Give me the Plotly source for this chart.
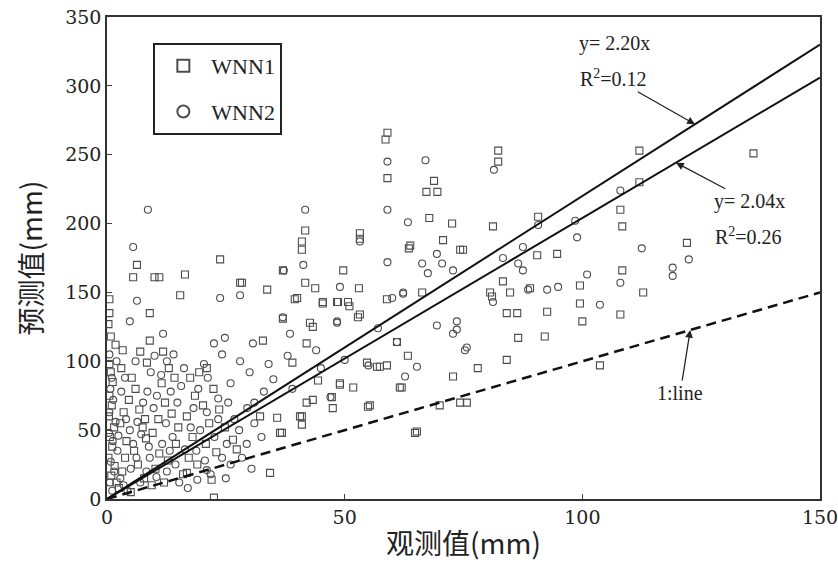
import plotly.graph_objects as go

# ---------------- data ----------------
wnn1_x = [5.5, 6.3, 10, 11, 16.4, 23.8, 28.4, 41.7, 41, 41, 37, 49.7, 41.7, 43.8, 40, 45.4, 48.6, 50.7, 53, 53.2,
          53.2, 58.9, 59, 58.6, 59, 63.8, 66.3, 67.2, 68.8, 69.5, 67.8, 72.6, 70.7, 74.3, 63.5, 82.3, 82.3, 81.2, 90.7, 74.9,
          90.5, 94.7, 99.5, 89, 83.3, 80.6, 84.8, 108, 108.4, 108.4, 112, 112, 112.8, 99.5, 136, 122, 108, 100, 92.6, 92.1,
          86.5, 84.1, 78, 72.8, 103.7, 84.1, 86.3, 81, 70, 75.7, 65.2, 61.6, 63.3, 57.4, 58.9, 51.8, 54.9, 47.5, 47.3, 41,
          41, 43.3, 44.4, 49, 36.8, 74.3, 45.4, 42, 43.3, 37, 39, 53.2, 22.5, 34.3, 0.5, 0.5, 0.3, 0.8, 9, 15.4,
          28, 33.7, 39.5, 21, 7, 9, 11.8, 8.4, 32.8, 42.7, 48.4, 51, 52.8, 54.7, 56.8, 62, 55.3, 64.8, 36.4, 32.2,
          35.8, 27.3, 26.5, 23, 40.6, 42, 49, 16.8, 61,
          0.5, 0.8, 1.2, 0.5, 1, 0.4, 1.5, 0.6, 1.1, 0.3, 1.6, 0.9, 2, 2.5, 3.2, 3.8, 4.1, 2.8, 3.5, 4.6,
          5.2, 3, 6, 6.8, 7.5, 8.2, 5.7, 6.5, 7.8, 9.4, 10.2, 11, 9.6, 10.8, 12.2, 11.5, 13, 14.2, 13.6, 15,
          14.5, 12.8, 16, 17.2, 18, 16.8, 18.5, 17.5, 19.4, 20.2, 21.5, 20.8, 19, 22.4, 23.6, 24.8, 22, 12, 5, 8,
          3.3, 1.8]
wnn1_y = [161, 170, 161, 161, 163, 174, 157, 195, 187, 181, 166, 166, 157, 153, 146, 143, 143, 143, 153, 193,
          189, 145, 266, 261, 233, 184, 150, 223, 231, 223, 204, 200, 188, 181, 182, 253, 245, 198, 205, 181,
          177, 178, 155, 153, 158, 150, 150, 210, 198, 166, 253, 230, 150, 142, 251, 186, 134, 129, 136, 118,
          117, 101, 95, 89, 97, 135, 135, 147, 68, 70, 49, 81, 104, 96, 97, 81, 67, 66, 74, 60,
          54, 72, 86, 84, 48, 70, 142, 113, 125, 131, 99, 134, 1, 19, 135, 145, 127, 118, 135, 148,
          157, 152, 145, 95, 107, 115, 107, 99, 115, 128, 143, 140, 132, 99, 96, 81, 68, 48, 48, 60,
          59, 36, 43, 34, 60, 70, 83, 19, 114,
          98, 92, 85, 75, 68, 60, 52, 45, 38, 30, 24, 17, 12, 8, 20, 30, 42, 55, 63, 72,
          88, 95, 80, 65, 52, 44, 35, 25, 15, 10, 22, 33, 48, 58, 70, 84, 95, 88, 62, 52,
          40, 28, 18, 30, 45, 60, 75, 88, 92, 68, 55, 40, 25, 80, 65, 52, 14, 12, 5, 58,
          108, 112]

wnn2_x = [8.6, 5.5, 37.2, 41.7, 41.3, 53.2, 59, 59, 59, 63.3, 67, 66.3, 69.4, 70.5, 67.5, 72.8, 49, 62.3, 81.4, 90.7,
          83.3, 87.5, 86.5, 87.5, 98.5, 98.9, 101, 94.9, 92.6, 81.2, 108, 108, 112.5, 122.4, 119, 119, 103.7, 75.7, 73.6, 88.6,
          62.7, 65.2, 61, 55, 72.8, 75.3, 69.4, 73.6, 48.4, 38.5, 6.3, 4.8, 11.8, 23.8, 28, 22.5, 24.8, 24.2, 30.7, 37,
          48.4, 60, 62.3, 29.5, 21, 23.4, 47, 21, 19, 57, 35, 33, 30, 28, 26, 31, 34, 38, 45, 50,
          44, 39,
          0.5, 1, 0.7, 1.3, 0.5, 1.8, 0.4, 1.2, 2.2, 0.8, 1.5, 2.8, 3.5, 4.3, 2.4, 3, 4, 4.8, 5.5, 6.2,
          5, 7, 8.3, 9, 8.8, 7.2, 6.4, 7.6, 8.5, 9.8, 10.5, 11.4, 9.2, 12.6, 10, 13.4, 14.8, 15.6, 16.2, 12.4,
          13.8, 11.6, 10.4, 12.6, 13.2, 14.4, 15.2, 16.4, 17.6, 18.2, 19.2, 20.4, 21.2, 18.8, 19.6, 20.6, 21.8, 22.6, 23.4, 24.2,
          25.2, 26, 27.8, 28.4, 29.4, 30.4, 14, 6, 3.8, 2, 0.6, 1.1, 17, 25.5, 26.8, 31, 32.5, 25]
wnn2_y = [210, 183, 166, 210, 170, 187, 245, 210, 172, 201, 246, 171, 178, 171, 164, 166, 154, 150, 239, 199,
          175, 183, 171, 166, 202, 190, 163, 154, 152, 143, 224, 157, 182, 174, 168, 162, 141, 110, 123, 152,
          89, 96, 114, 97, 120, 108, 126, 129, 129, 120, 144, 129, 120, 146, 148, 113, 117, 105, 113, 132,
          128, 146, 149, 66, 63, 73, 74, 21, 14, 124, 87, 78, 92, 100, 84, 70, 98, 104, 95, 101,
          108, 80,
          105, 88, 80, 72, 63, 56, 48, 42, 35, 27, 20, 15, 10, 6, 46, 78, 58, 50, 40, 30,
          22, 12, 20, 30, 38, 47, 56, 70, 78, 66, 75, 90, 92, 100, 104, 78, 70, 82, 95, 55,
          45, 40, 16, 20, 35, 25, 12, 36, 52, 66, 80, 98, 88, 35, 50, 28, 18, 45, 58, 30,
          40, 25, 50, 30, 40, 22, 105, 100, 88, 100, 12, 6, 8, 70, 58, 55, 45, 15]

series_names = ["WNN1", "WNN2"]
fit_slopes = [2.20, 2.04]
fit_r2 = [0.12, 0.26]
line_x = [0, 150]
x_ticks = [0, 50, 100, 150]
y_ticks = [0, 50, 100, 150, 200, 250, 300, 350]

serif = "DejaVu Serif"
ink = "#222222"
mark = "#4d4d4d"

fig = go.Figure()
fig.add_trace(go.Scatter(x=wnn1_x, y=wnn1_y, mode="markers", name=series_names[0], legendgroup="a",
                         marker=dict(symbol="square-open", size=7, color=mark, line=dict(width=1.1, color=mark))))
fig.add_trace(go.Scatter(x=wnn2_x, y=wnn2_y, mode="markers", name=series_names[1], legendgroup="b",
                         marker=dict(symbol="circle-open", size=7, color=mark, line=dict(width=1.1, color=mark))))

for s in fit_slopes:
    fig.add_trace(go.Scatter(x=line_x, y=[s * v for v in line_x], mode="lines", showlegend=False,
                             line=dict(color="#111111", width=2)))
fig.add_trace(go.Scatter(x=line_x, y=line_x, mode="lines", showlegend=False,
                         line=dict(color="#111111", width=2.5, dash="10px,6px")))

tf = dict(family="Liberation Serif", size=20, color=ink)
arrow = dict(showarrow=True, arrowhead=2, arrowsize=1.2, arrowwidth=1.3, arrowcolor=ink)
ann = []
ann.append(dict(x=106.7, y=330.4, text=f"y= {fit_slopes[0]:.2f}x", showarrow=False, font=tf))
ann.append(dict(x=123.7, y=fit_slopes[0] * 123.7, ax=-81, ay=-46, text=f"R<sup>2</sup>={fit_r2[0]:.2f}",
                font=tf, **arrow))
ann.append(dict(x=119.7, y=fit_slopes[1] * 119.7, ax=74, ay=39, text=f"y= {fit_slopes[1]:.2f}x",
                font=tf, **arrow))
ann.append(dict(x=134.9, y=191, text=f"R<sup>2</sup>={fit_r2[1]:.2f}", showarrow=False, font=tf))
ann.append(dict(x=122.7, y=122.7, ax=-10, ay=63, text="1:line", font=tf, **arrow))
for a in ann:
    a["xref"] = "x"
    a["yref"] = "y"

fig.update_layout(
    width=838, height=572,
    margin=dict(l=107, r=18, t=17, b=73),
    paper_bgcolor="white", plot_bgcolor="white",
    annotations=ann,
    legend=dict(x=0.065, y=0.946, xanchor="left", yanchor="top",
                bordercolor="#222222", borderwidth=2, bgcolor="white",
                font=dict(family="Liberation Serif", size=22, color=ink), tracegroupgap=14,
                itemsizing="constant", itemwidth=46),
    xaxis=dict(range=[0, 150], tickvals=x_ticks, ticks="inside", ticklen=5, tickwidth=1,
               ticklabeloverflow="allow", automargin=False,
               showgrid=False, zeroline=False, showline=True, linecolor="#333333", linewidth=1.5, mirror=True,
               tickfont=dict(family=serif, size=19, color=ink),
               title=dict(text="观测值(mm)", font=dict(family="Noto Sans CJK SC", size=28, color=ink), standoff=8)),
    yaxis=dict(range=[0, 350], tickvals=y_ticks, ticks="inside", ticklen=5, tickwidth=1,
               ticklabeloverflow="allow", automargin=False,
               showgrid=False, zeroline=False, showline=True, linecolor="#333333", linewidth=1.5, mirror=True,
               tickfont=dict(family=serif, size=19, color=ink),
               title=dict(text="预测值(mm)", font=dict(family="Noto Sans CJK SC", size=28, color=ink), standoff=14)),
)

fig.write_html("out.html")
